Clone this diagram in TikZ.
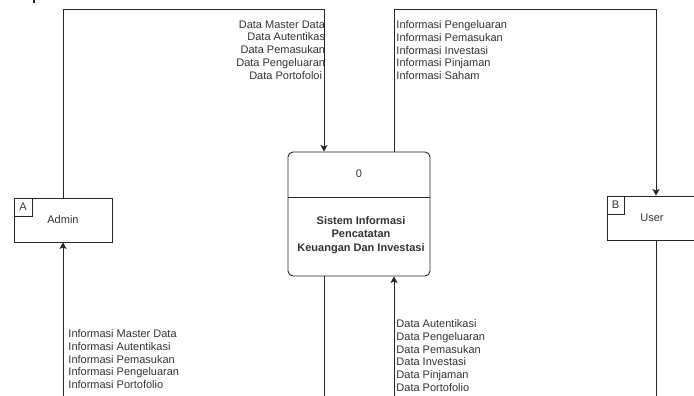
\documentclass[tikz,border=0pt]{standalone}
\usepackage{fontspec}
\setmainfont{Liberation Sans}
\usetikzlibrary{arrows.meta,calc}
\newcommand{\dfdfont}{\fontsize{11}{12.8}\selectfont}
\begin{document}
\begin{tikzpicture}[x=1pt,y=-1pt,
  line width=0.9pt,
  ln/.style={draw=black!85},
  lbl/.style={font=\dfdfont, text=black!80, inner sep=0pt},
  ent/.style={draw=black!85, rectangle, minimum width=98pt, minimum height=44pt, inner sep=0pt, font=\dfdfont, text=black!80},
  cellbox/.style={draw=black!85, rectangle, minimum width=18pt, minimum height=18pt, inner sep=0pt, font=\dfdfont, text=black!80},
  flow/.style={ln, -{Stealth[length=6.5pt,width=7pt,inset=1.5pt]}},
]
\clip (0,0) rectangle (694,396);
\fill[black!85] (33,0) rectangle (35,3);

% process
\node[draw=black!85, rounded corners=5pt, minimum width=142pt, minimum height=124pt, inner sep=0pt] (proc) at (359,214) {};
\coordinate (divy) at (0,197);
\draw[ln] (proc.west |- divy) -- (proc.east |- divy);
\node[lbl] (pid) at (359,174) {0};
\node[lbl, font=\bfseries\fontsize{11}{13.5}\selectfont, align=center] (pname) at (361,235) {Sistem Informasi\\Pencatatan\\Keuangan Dan Investasi};

% external entities
\node[ent] (admin) at (63,220) {Admin};
\node[cellbox, anchor=north west] (acell) at (admin.north west) {A};
\node[ent] (user) at (656,218) {};
\node[lbl] (utext) at (652,218) {User};
\node[cellbox, minimum width=17pt, anchor=north west] (bcell) at (user.north west) {B};

% connectors
\coordinate (c1) at (63,9);
\coordinate (c2) at (324,9);
\coordinate (c3) at (394,9);
\coordinate (c4) at (656,9);
\draw[flow] (admin.north) -- (c1) -- (c2) -- (c2 |- proc.north);
\draw[flow] (c3 |- proc.north) -- (c3) -- (c4) -- (user.north);
\coordinate (b1) at (63,400);
\coordinate (b2) at (324,400);
\coordinate (b3) at (394,400);
\coordinate (b4) at (656,400);
\draw[flow] (b1) -- (admin.south);
\draw[ln] (c2 |- proc.south) -- (b2);
\draw[flow] (b3) -- (b3 |- proc.south);
\draw[ln] (user.south) -- (b4);

% labels
\node[lbl, align=right, anchor=north east] (l1) at (325.5,20) {Data Master Data\\Data Autentikas\\Data Pemasukan\\Data Pengeluaran\\Data Portofoloi\hspace*{3pt}};
\node[lbl, align=left, anchor=north west] (l2) at (396,20) {Informasi Pengeluaran\\Informasi Pemasukan\\Informasi Investasi\\Informasi Pinjaman\\Informasi Saham};
\node[lbl, align=left, anchor=north west] (l3) at (68,329) {Informasi Master Data\\Informasi Autentikasi\\Informasi Pemasukan\\Informasi Pengeluaran\\Informasi Portofolio};
\node[lbl, align=left, anchor=north west] (l4) at (396,319) {Data Autentikasi\\Data Pengeluaran\\Data Pemasukan\\Data Investasi\\Data Pinjaman\\Data Portofolio};
\end{tikzpicture}
\end{document}
